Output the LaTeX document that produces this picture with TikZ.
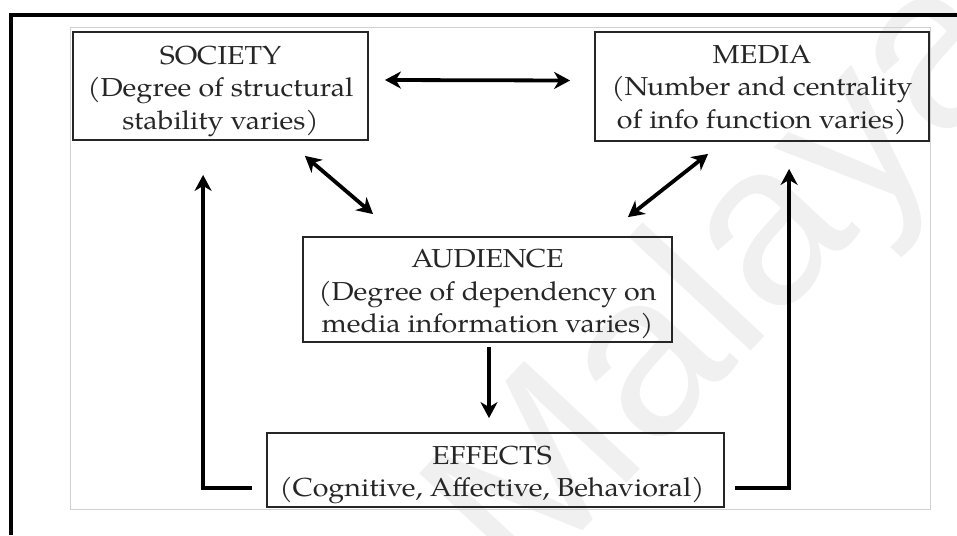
\documentclass[tikz,border=0pt]{standalone}
\usepackage{fontspec}
\setmainfont{texgyrepagella-regular.otf}[FakeStretch=1.1]
\newfontfamily\wmfont{Liberation Sans}
\usetikzlibrary{arrows.meta,calc}
\begin{document}
\begin{tikzpicture}[x=1pt,y=-1pt,
  box/.style={draw=black!85, line width=1.8pt, inner sep=0pt},
  lbl/.style={align=center, font=\fontsize{26}{32.5}\selectfont, text=black!85, inner sep=0pt},
  tip/.tip={Stealth[length=16pt,width=17pt,inset=5pt]},
  arr/.style={line width=4pt, -tip},
  dbl/.style={line width=3.8pt, tip-tip},
]
\useasboundingbox (0,0) rectangle (957,535);

% faint watermark behind everything
\begin{scope}
  \clip (0,0) rectangle (957,535);
  \node[rotate=47, text=black!6, font=\wmfont\fontsize{230}{230}\selectfont,
        anchor=base west, inner sep=0pt] (wm) at (522,596) {Malaya};
\end{scope}

% page frame and picture area
\draw[line width=4.5pt] (11,535) -- (11,15) -- (957,15);
\draw[black!18, line width=1pt] (70,28) rectangle (930,509);

% boxes
\node[box, minimum width=295pt, minimum height=108pt] (society) at (220.5,86) {};
\node[box, minimum width=334pt, minimum height=109pt] (media) at (762,86.5) {};
\node[box, minimum width=369pt, minimum height=105pt] (audience) at (487.5,289.5) {};
\node[box, minimum width=457pt, minimum height=74pt] (effects) at (495.5,470) {};

% box texts
\node[lbl] (society-t) at (220.5,91) {SOCIETY\\(Degree of structural\\stability varies)};
\node[lbl] (media-t) at (762,90) {MEDIA\\(Number and centrality\\of info function varies)};
\node[lbl] (audience-t) at (487.5,294) {AUDIENCE\\(Degree of dependency on\\media information varies)};
\node[lbl] (effects-t) at (492,475) {EFFECTS\\(Cognitive, Affective, Behavioral)};

% connectors
\draw[dbl] ($(society.east)+(16,-6)$) -- ($(media.west)+(-24,-6)$);
\draw[dbl] ($(society.south east)+(-64,15)$) -- ($(audience.north west)+(71,-22)$);
\draw[dbl] ($(media.south west)+(114,12)$) -- ($(audience.north east)+(-45,-19)$);
\draw[arr] ($(audience.south)+(1.5,4)$) -- ($(effects.north)+(-6.5,-14)$);
\draw[arr] ($(effects.south west)+(-14,-20)$) -| ($(society.south west)+(131,34)$);
\draw[arr] ($(effects.south east)+(10,-20)$) -| ($(media.south west)+(195,27)$);
\end{tikzpicture}
\end{document}
